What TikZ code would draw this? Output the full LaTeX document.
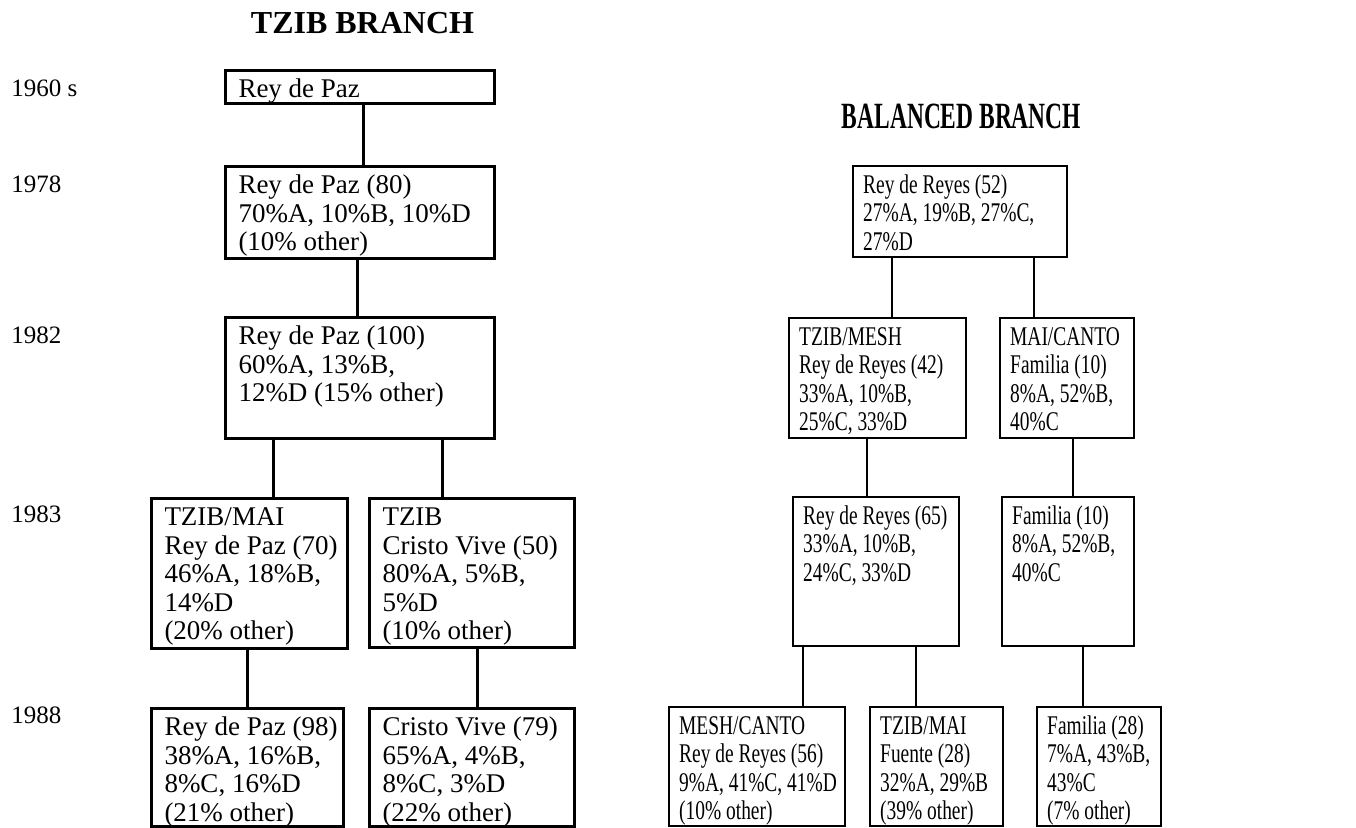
\documentclass[tikz,border=0pt]{standalone}
\usepackage{fontspec}
\setmainfont{Liberation Serif}
\newfontfamily\narrowfont{Liberation Serif}[FakeStretch=0.72]
\newfontfamily\titlenarrow{Liberation Serif}[FakeStretch=0.634]
\tikzset{
  box/.style={draw, anchor=north west, inner ysep=0pt, align=flush left,
    text height=13.5pt},
  lbox/.style 2 args={box, line width=1.5pt, inner xsep=6.5pt,
    text width=#1, text depth=#2,
    font=\fontsize{13.5}{14.25}\selectfont},
  rbox/.style 2 args={box, line width=1.2pt, inner xsep=5pt,
    text width=#1, text depth=#2,
    font=\narrowfont\fontsize{13.5}{14.25}\selectfont},
  lconn/.style={line width=1.5pt},
  rconn/.style={line width=1.2pt},
  year/.style={anchor=base west, inner sep=0pt, font=\fontsize{12.5}{12.5}\selectfont},
  title/.style={anchor=base, inner sep=0pt}
}
\begin{document}
\begin{tikzpicture}[x=0.5pt,y=-0.5pt]
\useasboundingbox (0,0) rectangle (1356,827);

% titles
\node[title, font=\bfseries\fontsize{16}{16}\selectfont] (t1) at (362.5,33) {TZIB BRANCH};
\node[title, font=\titlenarrow\bfseries\fontsize{18.5}{18.5}\selectfont] (t2) at (961.5,128) {BALANCED BRANCH};

% years
\node[year] (y1) at (11,96) {1960 s};
\node[year] (y2) at (11,192) {1978};
\node[year] (y3) at (11,343) {1982};
\node[year] (y4) at (11,522) {1983};
\node[year] (y5) at (11,723) {1988};

% TZIB branch
\node[lbox={121.5pt}{3pt}] (p60) at (224,69) {\mbox{Rey de Paz}};
\node[lbox={121.5pt}{32.5pt}] (p78) at (224,165) {\mbox{Rey de Paz (80)}\\\mbox{70\%A, 10\%B, 10\%D}\\\mbox{(10\% other)}};
\node[lbox={121.5pt}{47pt}] (p82) at (224,316) {\mbox{Rey de Paz (100)}\\\mbox{60\%A, 13\%B,}\\\mbox{12\%D (15\% other)}};
\node[lbox={85pt}{61.5pt}] (p83a) at (150,497) {\mbox{TZIB/MAI}\\\mbox{Rey de Paz (70)}\\\mbox{46\%A, 18\%B,}\\\mbox{14\%D}\\\mbox{(20\% other)}};
\node[lbox={89.5pt}{61pt}] (p83b) at (368,497) {\mbox{TZIB}\\\mbox{Cristo Vive (50)}\\\mbox{80\%A, 5\%B,}\\\mbox{5\%D}\\\mbox{(10\% other)}};
\node[lbox={83pt}{45.5pt}] (p88a) at (150,707) {\mbox{Rey de Paz (98)}\\\mbox{38\%A, 16\%B,}\\\mbox{8\%C, 16\%D}\\\mbox{(21\% other)}};
\node[lbox={89.5pt}{45.5pt}] (p88b) at (368,707) {\mbox{Cristo Vive (79)}\\\mbox{65\%A, 4\%B,}\\\mbox{8\%C, 3\%D}\\\mbox{(22\% other)}};

% Balanced branch
\node[rbox={97pt}{32pt}] (b78) at (852,165) {\mbox{Rey de Reyes (52)}\\\mbox{27\%A, 19\%B, 27\%C,}\\\mbox{27\%D}};
\node[rbox={78.5pt}{46.5pt}] (b82a) at (788,317) {\mbox{TZIB/MESH}\\\mbox{Rey de Reyes (42)}\\\mbox{33\%A, 10\%B,}\\\mbox{25\%C, 33\%D}};
\node[rbox={57pt}{46.5pt}] (b82b) at (999,317) {\mbox{MAI/CANTO}\\\mbox{Familia (10)}\\\mbox{8\%A, 52\%B,}\\\mbox{40\%C}};
\node[rbox={73pt}{61pt}] (b83a) at (792,496) {\mbox{Rey de Reyes (65)}\\\mbox{33\%A, 10\%B,}\\\mbox{24\%C, 33\%D}};
\node[rbox={56pt}{61pt}] (b83b) at (1001,496) {\mbox{Familia (10)}\\\mbox{8\%A, 52\%B,}\\\mbox{40\%C}};
\node[rbox={78pt}{46pt}] (b88a) at (668,706) {\mbox{MESH/CANTO}\\\mbox{Rey de Reyes (56)}\\\mbox{9\%A, 41\%C, 41\%D}\\\mbox{(10\% other)}};
\node[rbox={56.5pt}{46pt}] (b88b) at (869,706) {\mbox{TZIB/MAI}\\\mbox{Fuente (28)}\\\mbox{32\%A, 29\%B}\\\mbox{(39\% other)}};
\node[rbox={52pt}{46pt}] (b88c) at (1036,706) {\mbox{Familia (28)}\\\mbox{7\%A, 43\%B,}\\\mbox{43\%C}\\\mbox{(7\% other)}};

% connectors, TZIB branch
\draw[lconn] ([xshift=69.5pt]p60.south west) -- ([xshift=69.5pt]p78.north west);
\draw[lconn] ([xshift=66.5pt]p78.south west) -- ([xshift=66.5pt]p82.north west);
\draw[lconn] ([xshift=24.5pt]p82.south west) -- ([xshift=61.5pt]p83a.north west);
\draw[lconn] ([xshift=109pt]p82.south west) -- ([xshift=37pt]p83b.north west);
\draw[lconn] ([xshift=48.5pt]p83a.south west) -- ([xshift=48.5pt]p88a.north west);
\draw[lconn] ([xshift=54.5pt]p83b.south west) -- ([xshift=54.5pt]p88b.north west);

% connectors, Balanced branch
\draw[rconn] ([xshift=20pt]b78.south west) -- ([xshift=52pt]b82a.north west);
\draw[rconn] ([xshift=91pt]b78.south west) -- ([xshift=17.5pt]b82b.north west);
\draw[rconn] ([xshift=39.5pt]b82a.south west) -- ([xshift=37.5pt]b83a.north west);
\draw[rconn] ([xshift=37pt]b82b.south west) -- ([xshift=36pt]b83b.north west);
\draw[rconn] ([xshift=5.5pt]b83a.south west) -- ([xshift=67.5pt]b88a.north west);
\draw[rconn] ([xshift=62pt]b83a.south west) -- ([xshift=23.5pt]b88b.north west);
\draw[rconn] ([xshift=41pt]b83b.south west) -- ([xshift=23.5pt]b88c.north west);
\end{tikzpicture}
\end{document}
